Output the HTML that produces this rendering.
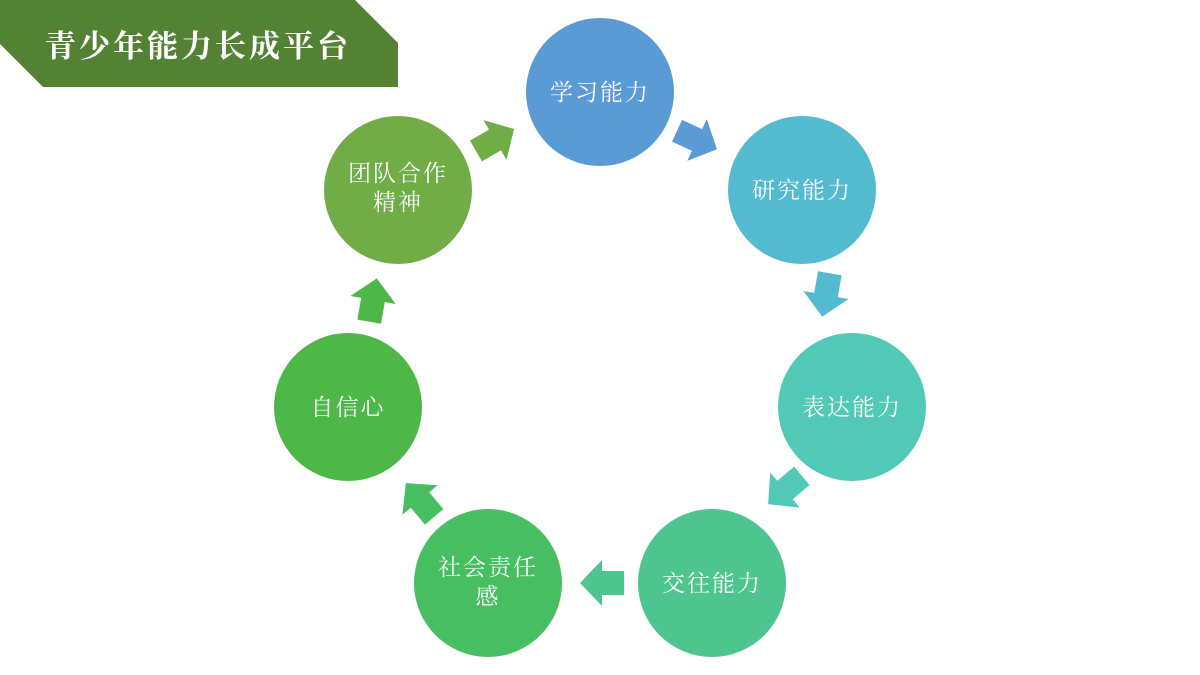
<!DOCTYPE html>
<html><head><meta charset="utf-8"><style>
html,body{margin:0;padding:0;background:#fff;}
</style></head><body>
<svg width="1200" height="675" viewBox="0 0 1200 675" xmlns="http://www.w3.org/2000/svg" style="display:block">
<defs>
<path id="ar" d="M-22,-12 L0,-12 L0,-23 L22,0 L0,23 L0,12 L-22,12 Z"/>
</defs>
<polygon points="0,0 355,0 398,43 398,87 43,87 0,44" fill="#548235"/>
<text x="45" y="57" fill="#fff" font-size="31" font-weight="bold" font-family="'Liberation Serif','Noto Serif CJK SC',serif" letter-spacing="3">青少年能力长成平台</text>
<g font-family="'Liberation Serif','Noto Serif CJK SC',serif" font-size="23" fill="#fff" text-anchor="middle" letter-spacing="2">
<circle cx="600" cy="92" r="74" fill="#5B9BD5"/><text x="600" y="100">学习能力</text>
<circle cx="802" cy="190" r="74" fill="#54BACF"/><text x="802" y="198">研究能力</text>
<circle cx="852" cy="407" r="74" fill="#51C9B6"/><text x="852" y="415">表达能力</text>
<circle cx="712" cy="583" r="74" fill="#4EC48E"/><text x="712" y="591">交往能力</text>
<circle cx="488" cy="583" r="74" fill="#48BE63"/><text x="488" y="575">社会责任</text><text x="488" y="604">感</text>
<circle cx="348" cy="407" r="74" fill="#4DB748"/><text x="348" y="415">自信心</text>
<circle cx="398" cy="190" r="74" fill="#70AD47"/><text x="398" y="181">团队合作</text><text x="398" y="210">精神</text>
</g>
<use href="#ar" transform="translate(697,140) rotate(25)" fill="#5B9BD5"/>
<use href="#ar" transform="translate(826,295) rotate(100)" fill="#54BACF"/>
<use href="#ar" transform="translate(785,490) rotate(140)" fill="#51C9B6"/>
<use href="#ar" transform="translate(602,583) rotate(180)" fill="#4EC48E"/>
<use href="#ar" transform="translate(420,500) rotate(230)" fill="#48BE63"/>
<use href="#ar" transform="translate(373,300) rotate(-80)" fill="#4DB748"/>
<use href="#ar" transform="translate(495,140) rotate(-30)" fill="#70AD47"/>
</svg>
</body></html>
